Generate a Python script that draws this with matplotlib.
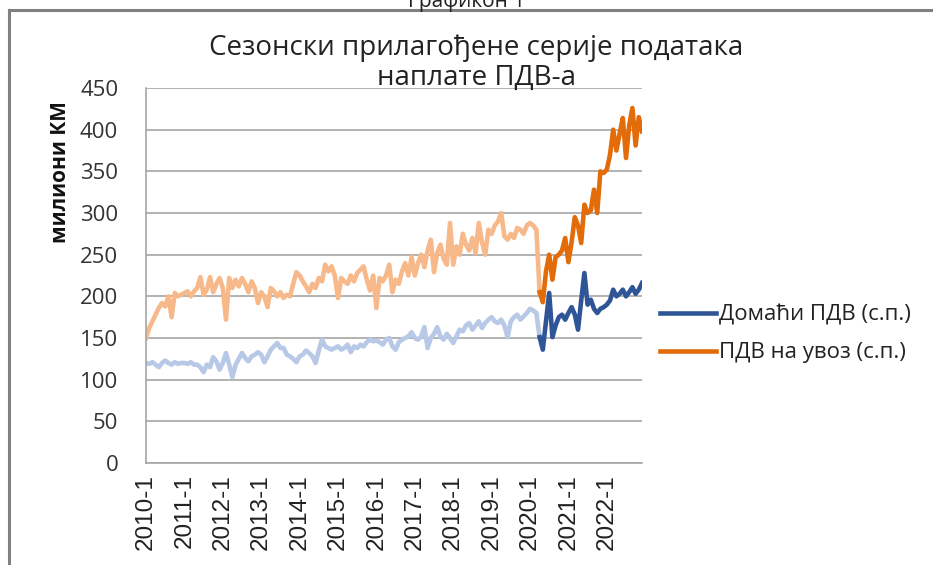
import matplotlib
matplotlib.use("Agg")
import matplotlib.pyplot as plt
from matplotlib.lines import Line2D

# monthly seasonally adjusted VAT collections, 2010-1 .. 2022-12 (million KM)
imports_vat = [
    150, 162, 170, 178, 186, 192, 188, 200, 175, 204, 200, 202,
    204, 206, 200, 206, 210, 223, 202, 208, 223, 205, 215, 222,
    210, 172, 222, 210, 220, 212, 222, 215, 205, 218, 210, 192,
    205, 200, 187, 210, 206, 200, 205, 198, 202, 200, 215, 229,
    225, 218, 212, 205, 215, 210, 222, 218, 238, 230, 236, 225,
    198, 222, 218, 215, 225, 218, 228, 232, 236, 220, 207, 225,
    186, 222, 218, 225, 238, 205, 220, 215, 230, 240, 225, 247,
    225, 240, 250, 235, 255, 268, 229, 252, 262, 245, 238, 288,
    238, 260, 250, 275, 262, 255, 270, 252, 288, 265, 250, 280,
    275, 285, 290, 300, 272, 268, 275, 270, 282, 280, 275, 285,
    288, 285, 280, 205, 193, 230, 250, 220, 247, 250, 255, 270,
    241, 265, 295, 285, 264, 310, 300, 303, 328, 300, 350, 348,
    352, 370, 400, 375, 395, 414, 366, 405, 426, 381, 415, 398,
]
domestic_vat = [
    120, 119, 121, 118, 115, 120, 123, 120, 118, 121, 119, 120,
    120, 119, 121, 118, 118, 115, 109, 118, 115, 127, 122, 112,
    120, 132, 118, 103, 118, 125, 132, 126, 122, 128, 130, 133,
    130, 121, 128, 136, 140, 144, 138, 138, 130, 128, 125, 121,
    128, 130, 135, 132, 128, 120, 135, 148, 140, 138, 136, 138,
    140, 136, 138, 142, 133, 140, 138, 142, 140, 145, 148, 146,
    147, 145, 142, 148, 150, 140, 136, 145, 148, 150, 152, 157,
    150, 148, 152, 163, 138, 150, 155, 163, 152, 148, 155, 150,
    144, 152, 160, 158, 165, 168, 160, 165, 170, 162, 168, 172,
    175, 170, 168, 172, 165, 151, 170, 175, 178, 172, 176, 180,
    185, 183, 180, 151, 136, 170, 204, 151, 165, 175, 178, 172,
    180, 187, 178, 160, 195, 228, 190, 196, 185, 180, 185, 187,
    190, 195, 208, 200, 203, 208, 200, 205, 211, 203, 208, 216,
]
years = list(range(2010, 2023))
split = 123  # first month drawn in the strong colour (2020-4)

months = [f"{y}-{m}" for y in years for m in range(1, 13)]
x = list(range(len(months)))

plt.rcParams['font.family'] = ['Open Sans', 'DejaVu Sans']

fig = plt.figure(figsize=(9.33, 5.65), dpi=100)
ax = fig.add_axes([146/933, 1 - 463/565, (642 - 146)/933, (463 - 88)/565])

ax.plot(x[:split + 1], imports_vat[:split + 1], color='#F7B98A', lw=3.3)
ax.plot(x[:split + 1], domestic_vat[:split + 1], color='#B7C9E6', lw=3.3)
l_dom, = ax.plot(x[split:], domestic_vat[split:], color='#2F5597', lw=3.3)
l_imp, = ax.plot(x[split:], imports_vat[split:], color='#E36C0A', lw=3.3)

ax.set_xlim(0, len(months) - 1)
ax.set_ylim(0, 450)
ax.set_yticks(range(0, 451, 50))
ax.set_xticks(x[::12])
ax.set_xticklabels(months[::12], rotation=90, fontsize=17.5, color='#222222',
                   family=['Liberation Sans', 'DejaVu Sans'])
ax.tick_params(axis='y', length=0, pad=20, labelsize=16, labelcolor='#333333')
ax.tick_params(axis='x', length=0, pad=8)
ax.grid(axis='y', color='#A6A6A6', lw=1.2)
ax.set_axisbelow(True)
for s in ['top', 'right']:
    ax.spines[s].set_visible(False)
for s in ['left', 'bottom']:
    ax.spines[s].set_color('#A6A6A6')
    ax.spines[s].set_linewidth(1.2)

ax.set_ylabel("милиони КМ", fontsize=15, fontweight='bold', color='#111111')
ax.yaxis.set_label_coords(-0.152, 0.776)

fig.legend([l_dom, l_imp], ["Домаћи ПДВ (с.п.)", "ПДВ на увоз (с.п.)"],
           loc='center left', bbox_to_anchor=(640/933, 1 - 334/565),
           frameon=False, fontsize=16, handlelength=2.5, handletextpad=0.15,
           labelspacing=0.75, labelcolor='#222222')

fig.text(476/933, 1 - 48/565, "Сезонски прилагођене серије података",
         ha='center', va='center', fontsize=20, color='#222222')
fig.text(476/933, 1 - 78/565, "наплате ПДВ-а",
         ha='center', va='center', fontsize=20, color='#222222')
fig.text(467/933, 1 - 7/565, "Графикон 1", ha='center', va='baseline',
         fontsize=15, color='#222222')

fig.add_artist(Line2D([9/933, 1], [1 - 10/565] * 2, color='#808080', lw=2.2))
fig.add_artist(Line2D([9/933] * 2, [0, 1 - 10/565], color='#808080', lw=2.2))

fig.savefig("out.png", dpi=100)
